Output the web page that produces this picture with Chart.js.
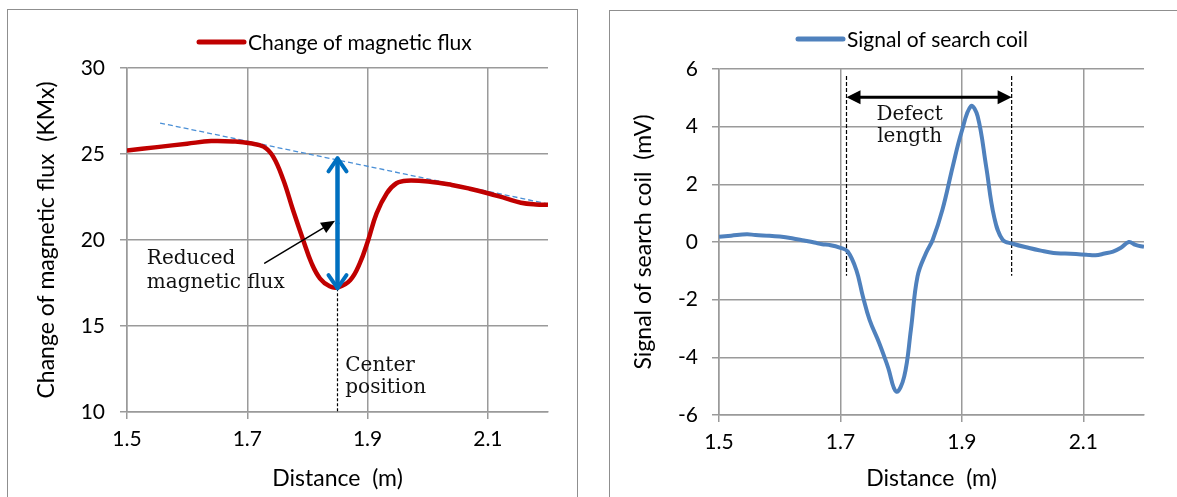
<!DOCTYPE html>
<html>
<head>
<meta charset="utf-8">
<script src="https://cdn.jsdelivr.net/npm/chart.js@4.4.0/dist/chart.umd.min.js"></script>
<style>
html, body { margin: 0; padding: 0; background: #fff; width: 1177px; height: 497px; overflow: hidden; }
.box { position: absolute; border: 1px solid #8f8f8f; background: #fff; }
#boxL { left: 7px; top: 9px; width: 569px; height: 520px; }
#boxR { left: 609px; top: 10px; width: 600px; height: 520px; }
canvas { display: block; }
</style>
</head>
<body>
<div class="box" id="boxL"><canvas id="fluxChart" width="569" height="487" style="width:569px;height:487px"></canvas></div>
<div class="box" id="boxR"><canvas id="coilChart" width="570" height="486" style="width:570px;height:486px"></canvas></div>

<script>
// distance ticks shared by both charts
var distTicks = [1.5, 1.7, 1.9, 2.1];
var fluxTicks = [10, 15, 20, 25, 30];
var coilTicks = [-6, -4, -2, 0, 2, 4, 6];

// change of magnetic flux (KMx) vs distance (m)
var fluxX = [1.50, 1.55, 1.60, 1.64, 1.68, 1.705, 1.727, 1.743, 1.76, 1.776, 1.793, 1.807, 1.821, 1.837, 1.851,
             1.871, 1.887, 1.901, 1.915, 1.932, 1.948, 1.965, 2.004, 2.04, 2.07, 2.10, 2.13, 2.155, 2.18, 2.20];
var fluxY = [25.2, 25.4, 25.6, 25.75, 25.72, 25.62, 25.43, 24.85, 23.49, 21.74, 19.99, 18.64, 17.76, 17.31, 17.25,
             17.66, 18.64, 19.99, 21.55, 22.72, 23.3, 23.45, 23.39, 23.2, 22.98, 22.72, 22.42, 22.17, 22.07, 22.05];

// signal of search coil (mV) vs distance (m)
var coilX = [1.50, 1.52, 1.546, 1.56, 1.583, 1.60, 1.62, 1.64, 1.657, 1.67, 1.681, 1.70, 1.712, 1.726, 1.737, 1.748,
             1.764, 1.778, 1.792, 1.805, 1.816, 1.827, 1.841, 1.852, 1.868, 1.885, 1.899, 1.915, 1.926, 1.94, 1.953,
             1.967, 1.984, 2.011, 2.03, 2.051, 2.07, 2.088, 2.105, 2.12, 2.135, 2.149, 2.162, 2.175, 2.186, 2.20];
var coilY = [0.18, 0.22, 0.27, 0.24, 0.22, 0.19, 0.13, 0.05, -0.02, -0.08, -0.1, -0.2, -0.33, -0.96, -1.89, -2.70,
             -3.51, -4.32, -5.19, -4.67, -3.05, -1.19, -0.38, 0.08, 1.12, 2.62, 3.78, 4.71, 4.36, 2.62, 0.89,
             0.08, -0.06, -0.21, -0.30, -0.38, -0.40, -0.42, -0.44, -0.46, -0.40, -0.33, -0.20, 0.0, -0.10, -0.17];

// annotation anchors (data units)
var trendX = [1.555, 2.2];
var trendY = [26.8, 22.1];
var centerPos = 1.85;
var fluxLow = 17.2;
var fluxHigh = 24.75;
var defectX = [1.71, 1.982];
var defectTop = 5.76;
var defectBottom = -1.17;
var defectArrowY = 5.02;

var sansFont = 'Lato, "Liberation Sans", sans-serif';
var serifFont = '"DejaVu Serif", "Liberation Serif", serif';
var gridGray = '#9a9a9a';

function pts(xs, ys) {
    return xs.map((x, i) => ({ x: x, y: ys[i] }));
}

function drawHead(ctx, x, y, ang, len, half, open) {
    ctx.beginPath();
    ctx.moveTo(x - len * Math.cos(ang) + half * Math.sin(ang), y - len * Math.sin(ang) - half * Math.cos(ang));
    ctx.lineTo(x, y);
    ctx.lineTo(x - len * Math.cos(ang) - half * Math.sin(ang), y - len * Math.sin(ang) + half * Math.cos(ang));
    if (open) {
        ctx.stroke();
    } else {
        ctx.closePath();
        ctx.fill();
    }
}

function arrow(ctx, x1, y1, x2, y2, opt) {
    var ang = Math.atan2(y2 - y1, x2 - x1);
    var cut = opt.open ? 0 : opt.len * 0.8;
    ctx.save();
    ctx.strokeStyle = opt.color;
    ctx.fillStyle = opt.color;
    ctx.lineWidth = opt.width;
    ctx.lineCap = 'round';
    ctx.lineJoin = 'round';
    ctx.beginPath();
    ctx.moveTo(x1 + (opt.both ? cut * Math.cos(ang) : 0), y1 + (opt.both ? cut * Math.sin(ang) : 0));
    ctx.lineTo(x2 - cut * Math.cos(ang), y2 - cut * Math.sin(ang));
    ctx.stroke();
    drawHead(ctx, x2, y2, ang, opt.len, opt.half, opt.open);
    if (opt.both) drawHead(ctx, x1, y1, ang + Math.PI, opt.len, opt.half, opt.open);
    ctx.restore();
}

function writeLines(ctx, lines, x, ys, align) {
    ctx.save();
    ctx.font = '20px ' + serifFont;
    ctx.fillStyle = '#111';
    ctx.textAlign = align;
    ctx.textBaseline = 'middle';
    lines.forEach((t, i) => ctx.fillText(t, x, ys[i]));
    ctx.restore();
}

// legend drawn by hand so its place matches the picture
var lineLegend = {
    id: 'lineLegend',
    afterDraw(chart, args, opts) {
        var ds = chart.data.datasets[0];
        var ctx = chart.ctx;
        ctx.save();
        ctx.strokeStyle = ds.borderColor;
        ctx.lineWidth = 5;
        ctx.lineCap = 'round';
        ctx.beginPath();
        ctx.moveTo(opts.x, opts.y);
        ctx.lineTo(opts.x + 45, opts.y);
        ctx.stroke();
        ctx.font = '21px ' + sansFont;
        ctx.fillStyle = '#000';
        ctx.textBaseline = 'middle';
        ctx.fillText(ds.label, opts.x + 49, opts.y + 1);
        ctx.restore();
    }
};

var fluxNotes = {
    id: 'fluxNotes',
    afterDatasetsDraw(chart) {
        var ctx = chart.ctx, xs = chart.scales.x, ys = chart.scales.y;
        var cx = xs.getPixelForValue(centerPos);
        var top = ys.getPixelForValue(fluxHigh), bot = ys.getPixelForValue(fluxLow);
        ctx.save();
        ctx.strokeStyle = '#0070c0';
        ctx.lineWidth = 4;
        ctx.beginPath();
        ctx.moveTo(cx, top + 2);
        ctx.lineTo(cx, bot - 2);
        ctx.stroke();
        ctx.restore();
        arrow(ctx, cx, (top + bot) / 2, cx, top, { color: '#0070c0', width: 4, len: 13, half: 9, open: true });
        arrow(ctx, cx, (top + bot) / 2, cx, bot, { color: '#0070c0', width: 4, len: 13, half: 9, open: true });
        arrow(ctx, xs.getPixelForValue(1.729), ys.getPixelForValue(18.65), xs.getPixelForValue(1.846), ys.getPixelForValue(21.12),
            { color: '#000', width: 1.5, len: 14, half: 6, open: false });
        writeLines(ctx, ['Reduced', 'magnetic flux'], xs.getPixelForValue(1.533),
            [ys.getPixelForValue(18.89), ys.getPixelForValue(17.49)], 'left');
        writeLines(ctx, ['Center', 'position'], xs.getPixelForValue(1.863),
            [ys.getPixelForValue(12.71), ys.getPixelForValue(11.43)], 'left');
    }
};

var coilNotes = {
    id: 'coilNotes',
    afterDatasetsDraw(chart) {
        var ctx = chart.ctx, xs = chart.scales.x, ys = chart.scales.y;
        arrow(ctx, xs.getPixelForValue(defectX[0]), ys.getPixelForValue(defectArrowY),
            xs.getPixelForValue(defectX[1]), ys.getPixelForValue(defectArrowY),
            { color: '#000', width: 3, len: 14, half: 7, open: false, both: true });
        writeLines(ctx, ['Defect', 'length'], xs.getPixelForValue(1.814),
            [ys.getPixelForValue(4.40), ys.getPixelForValue(3.64)], 'center');
    }
};

function scaleX(axisHeight) {
    return {
        type: 'linear', min: 1.5, max: 2.2,
        afterBuildTicks: s => { s.ticks = distTicks.map(v => ({ value: v })); },
        afterFit: s => { s.height = axisHeight; },
        grid: { color: gridGray, lineWidth: 1.5, tickLength: 7, tickColor: gridGray },
        border: { color: gridGray, width: 1.5 },
        ticks: { color: '#000', padding: 8, maxRotation: 0, font: { family: sansFont, size: 21 }, callback: v => v.toFixed(1) },
        title: { display: true, text: 'Distance  (m)', color: '#000', font: { family: sansFont, size: 23 }, padding: { top: 0, bottom: 5 } }
    };
}

function scaleY(lo, hi, tickList, axisWidth, title, titlePad, tickPad) {
    return {
        min: lo, max: hi,
        afterBuildTicks: s => { s.ticks = tickList.map(v => ({ value: v })); },
        afterFit: s => { s.width = axisWidth; },
        grid: { color: gridGray, lineWidth: 1.5, tickLength: 7, tickColor: gridGray },
        border: { color: gridGray, width: 1.5 },
        ticks: { color: '#000', padding: tickPad, font: { family: sansFont, size: 21 } },
        title: { display: true, text: title, color: '#000', font: { family: sansFont, size: 23 }, padding: { top: titlePad, bottom: 0 } }
    };
}

new Chart(document.getElementById('fluxChart').getContext('2d'), {
    type: 'line',
    data: {
        datasets: [
            {
                label: 'Change of magnetic flux',
                data: pts(fluxX, fluxY),
                borderColor: '#c00000',
                borderWidth: 4.5,
                pointRadius: 0,
                tension: 0.4
            },
            {
                label: 'trend',
                data: pts(trendX, trendY),
                borderColor: '#4a8fd6',
                borderWidth: 1.3,
                borderDash: [5, 3],
                pointRadius: 0
            },
            {
                label: 'center',
                data: pts([centerPos, centerPos], [fluxLow, 10]),
                borderColor: '#000',
                borderWidth: 1.2,
                borderDash: [3, 2],
                pointRadius: 0
            }
        ]
    },
    options: {
        responsive: false,
        animation: false,
        layout: { padding: { top: 58, right: 29, left: 0, bottom: 0 } },
        plugins: { legend: { display: false }, tooltip: { enabled: false }, lineLegend: { x: 191, y: 32 } },
        scales: {
            x: scaleX(85),
            y: scaleY(10, 30, fluxTicks, 119, 'Change of magnetic flux  (KMx)', 25, 15)
        }
    },
    plugins: [lineLegend, fluxNotes]
});

new Chart(document.getElementById('coilChart').getContext('2d'), {
    type: 'line',
    data: {
        datasets: [
            {
                label: 'Signal of search coil',
                data: pts(coilX, coilY),
                borderColor: '#4f81bd',
                borderWidth: 4,
                pointRadius: 0,
                tension: 0.4
            },
            {
                label: 'start',
                data: pts([defectX[0], defectX[0]], [defectTop, defectBottom]),
                borderColor: '#000',
                borderWidth: 1.2,
                borderDash: [4, 2],
                pointRadius: 0
            },
            {
                label: 'end',
                data: pts([defectX[1], defectX[1]], [defectTop, defectBottom]),
                borderColor: '#000',
                borderWidth: 1.2,
                borderDash: [4, 2],
                pointRadius: 0
            }
        ]
    },
    options: {
        responsive: false,
        animation: false,
        layout: { padding: { top: 58, right: 36, left: 0, bottom: 0 } },
        plugins: { legend: { display: false }, tooltip: { enabled: false }, lineLegend: { x: 188, y: 28 } },
        scales: {
            x: scaleX(82),
            y: scaleY(-6, 6, coilTicks, 109, 'Signal of search coil  (mV)', 20, 14)
        }
    },
    plugins: [lineLegend, coilNotes]
});
</script>
</body>
</html>
